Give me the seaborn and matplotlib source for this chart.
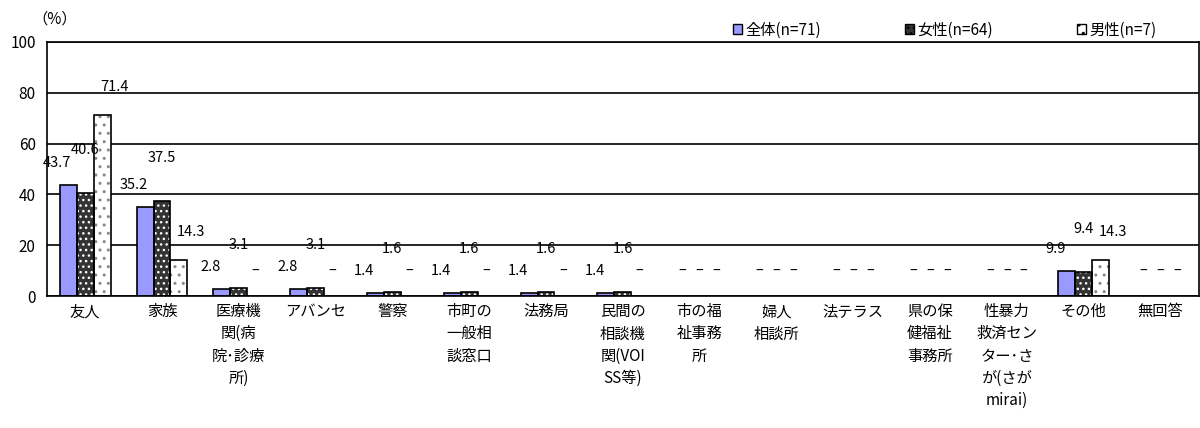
import matplotlib
matplotlib.use("Agg")
import matplotlib.pyplot as plt
from matplotlib.patches import Rectangle, Patch
import numpy as np
import pandas as pd
import seaborn as sns

# data
categories = ["友人", "家族", "医療機\n関(病\n院･診療\n所)", "アバンセ", "警察",
              "市町の\n一般相\n談窓口", "法務局", "民間の\n相談機\n関(VOI\nSS等)",
              "市の福\n祉事務\n所", "婦人\n相談所", "法テラス", "県の保\n健福祉\n事務所",
              "性暴力\n救済セン\nター･さ\nが(さが\nmirai)", "その他", "無回答"]
groups = ["全体(n=71)", "女性(n=64)", "男性(n=7)"]
total = [43.7, 35.2, 2.8, 2.8, 1.4, 1.4, 1.4, 1.4, 0, 0, 0, 0, 0, 9.9, 0]
female = [40.6, 37.5, 3.1, 3.1, 1.6, 1.6, 1.6, 1.6, 0, 0, 0, 0, 0, 9.4, 0]
male = [71.4, 14.3, 0, 0, 0, 0, 0, 0, 0, 0, 0, 0, 0, 14.3, 0]
yticks = [0, 20, 40, 60, 80, 100]

df = pd.DataFrame({
    "cat": categories * 3,
    "group": np.repeat(groups, len(categories)),
    "val": total + female + male,
})

sns.set_theme(style="white")
plt.rcParams["font.family"] = ["Noto Sans CJK JP", "DejaVu Sans"]
plt.rcParams["text.color"] = "black"
plt.rcParams["xtick.color"] = "black"
plt.rcParams["ytick.color"] = "black"

fig = plt.figure(figsize=(12, 4.28), dpi=100)
ax = fig.add_axes([0.039, 0.308, 0.96, 0.594])

faces = ["#9999FF", "#333333", "white"]
hatches = [None, "...", ".."]
hatch_cols = [None, "white", "#888888"]

sns.barplot(data=df, x="cat", y="val", hue="group", order=categories,
            hue_order=groups, palette=faces, width=0.66, errorbar=None,
            legend=False, ax=ax, saturation=1)

# style bars: hatch layer + black outline on top
for i, cont in enumerate(ax.containers):
    for p in cont.patches:
        p.set_linewidth(0)
        if hatches[i]:
            p.set_hatch(hatches[i])
            p.set_edgecolor(hatch_cols[i])
        if p.get_height() > 0:
            ax.add_patch(Rectangle((p.get_x(), p.get_y()), p.get_width(), p.get_height(),
                                   fill=False, edgecolor="black", linewidth=1.2, zorder=3))

# data labels (Excel-like offsets)
dy = [8.5, 17, 11]
dx = [-8, 0, 9]
for i, (cont, vals) in enumerate(zip(ax.containers, [total, female, male])):
    for p, v in zip(cont.patches, vals):
        xc = p.get_x() + p.get_width() / 2
        if v > 0:
            ax.annotate(f"{v:.1f}", (xc, v + dy[i]), xytext=(dx[i], 0),
                        textcoords="offset points", ha="center", va="center",
                        fontsize=10.5)
        else:
            ax.annotate("–", (xc, 10), ha="center", va="center", fontsize=10.5)

ax.set_ylim(0, 100)
ax.set_xlim(-0.5, len(categories) - 0.5)
ax.set_yticks(yticks)
ax.yaxis.grid(True, color="black", linewidth=1.2)
ax.set_axisbelow(True)
for s in ax.spines.values():
    s.set_color("black")
    s.set_linewidth(1.2)
ax.set_xlabel("")
ax.set_ylabel("")
ax.tick_params(axis="x", which="major", length=0, labelsize=11, pad=5)
ax.set_xticks(np.arange(len(categories) - 1) + 0.5, minor=True)
ax.tick_params(axis="x", which="minor", direction="inout", length=10, width=1.2, color="black")
ax.tick_params(axis="y", length=0, labelsize=11, pad=8)
for lab in ax.get_xticklabels():
    lab.set_verticalalignment("top")
    lab.set_linespacing(1.4)

fig.text(0.027, 0.955, "（%）", fontsize=11, ha="left", va="center")

handles = [Patch(facecolor=faces[i], edgecolor="black", hatch=hatches[i], linewidth=1)
           for i in range(3)]
fig.legend(handles, groups, loc="center right", bbox_to_anchor=(0.975, 0.93), ncol=3,
           frameon=False, fontsize=11, handlelength=0.6, handleheight=0.6,
           handletextpad=0.2, columnspacing=5.5)

fig.savefig("out.png", dpi=100)
